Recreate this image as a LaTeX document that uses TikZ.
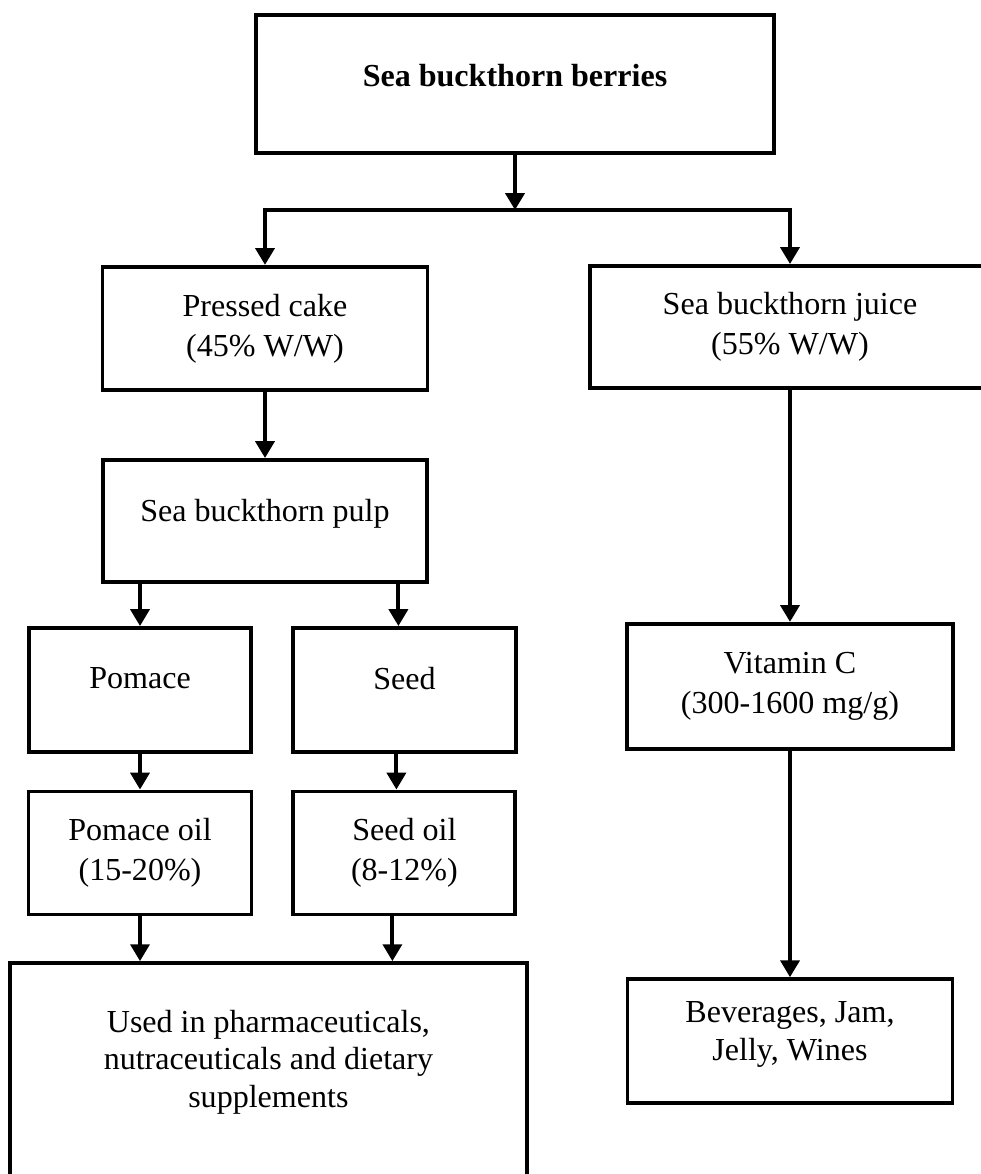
\documentclass[tikz,border=0pt]{standalone}
\usepackage{fontspec}
\setmainfont{Liberation Serif}
\usetikzlibrary{arrows.meta, positioning}

\begin{document}
\begin{tikzpicture}[
  stage/.style={
    draw, line width=2.8pt, align=center, inner sep=0pt,
    font=\fontsize{22.8}{28.5}\selectfont
  },
  feed/.style={-{Triangle[length=0.42cm, width=0.47cm]}, line width=2.8pt}
]
  \useasboundingbox (0, 0) rectangle (24.5, -29.35);

  \node[stage, minimum width=12.95cm, minimum height=3.45cm, text depth=0.45cm]
    (berries) at (12.875, -2.1) {\textbf{Sea buckthorn berries}};
  \node[stage, minimum width=8.125cm, minimum height=3.075cm]
    (cake) at (6.625, -8.21) {Pressed cake\\(45\% W/W)};
  \node[stage, minimum width=10cm, minimum height=3.05cm]
    (juice) at (19.75, -8.175) {Sea buckthorn juice\\(55\% W/W)};
  \node[stage, minimum width=8.1cm, minimum height=3.05cm, text depth=0.55cm]
    (pulp) at (6.625, -13.025) {Sea buckthorn pulp};
  \node[stage, minimum width=5.55cm, minimum height=3.1cm, text depth=0.6cm]
    (pomace) at (3.5, -17.25) {Pomace};
  \node[stage, minimum width=5.575cm, minimum height=3.1cm, text depth=0.6cm]
    (seed) at (10.11, -17.25) {Seed};
  \node[stage, minimum width=5.575cm, minimum height=3.075cm]
    (pomoil) at (3.5, -21.325) {Pomace oil\\(15-20\%)};
  \node[stage, minimum width=5.55cm, minimum height=3.075cm]
    (seedoil) at (10.11, -21.325) {Seed oil\\(8-12\%)};
  \node[stage, minimum width=12.925cm, minimum height=5.425cm, text depth=0.65cm,
    font=\fontsize{22.8}{26.8}\selectfont]
    (uses) at (6.71, -26.79) {Used in pharmaceuticals,\\nutraceuticals and dietary\\supplements};
  \node[stage, minimum width=8.15cm, minimum height=3.125cm]
    (vitc) at (19.75, -17.16) {Vitamin C\\(300-1600 mg/g)};
  \node[stage, minimum width=8.125cm, minimum height=3.1cm, text depth=0.5cm,
    font=\fontsize{22.8}{26.8}\selectfont]
    (bev) at (19.75, -26.03) {Beverages, Jam,\\Jelly, Wines};

  \coordinate (split) at (12.875, -5.25);
  \draw[feed] (berries) -- (split);
  \draw[feed] (split) -| (cake);
  \draw[feed] (split) -| (juice);
  \draw[feed] (cake) -- (pulp);
  \draw[feed] (pulp.south -| pomace) -- (pomace);
  \draw[feed] ([xshift=-1.5mm]pulp.south -| seed) -- ([xshift=-1.5mm]seed.north);
  \draw[feed] (pomace) -- (pomoil);
  \draw[feed] ([xshift=-2mm]seed.south) -- ([xshift=-2mm]seedoil.north);
  \draw[feed] (pomoil) -- (pomoil |- uses.north);
  \draw[feed] ([xshift=-3mm]seedoil.south) -- ([xshift=-3mm]seedoil.south |- uses.north);
  \draw[feed] (juice) -- (vitc);
  \draw[feed] (vitc) -- (bev);
\end{tikzpicture}
\end{document}
